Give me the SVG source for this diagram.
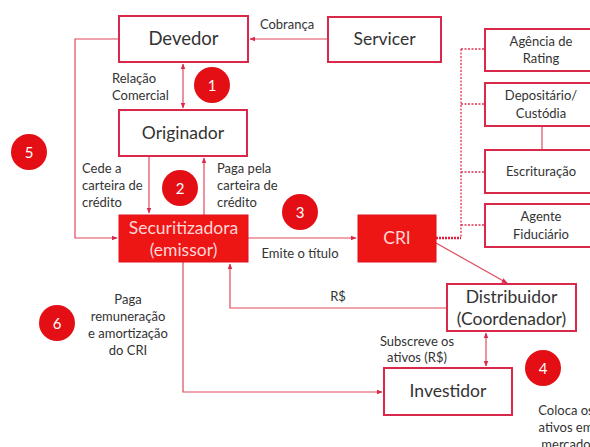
<svg xmlns="http://www.w3.org/2000/svg" width="590" height="447" viewBox="0 0 590 447">
<defs>
<style>
.box{fill:#fff;stroke:#d9284a;stroke-width:2}
.fbox{fill:#ee1515;stroke:#e01020;stroke-width:1}
.t{font-family:Lato,"Liberation Sans",sans-serif;fill:#333;text-anchor:middle}
.big{font-size:17.5px}
.sm{font-size:13px}
.wt{fill:#ffd6d6}
.ln{fill:none;stroke:#e04a5c;stroke-width:1.2}
.dot{fill:none;stroke:#e03050;stroke-width:1.3;stroke-dasharray:2 1.5}
.circ{fill:#e30f14}
.ct{font-family:Lato,"Liberation Sans",sans-serif;font-size:15px;fill:#fff;text-anchor:middle}
</style>
<marker id="ah" viewBox="0 0 10 10" refX="9" refY="5" markerWidth="6" markerHeight="6" orient="auto-start-reverse" markerUnits="userSpaceOnUse">
<path d="M0,1 L10,5 L0,9 z" fill="#d9284a"/>
</marker>
</defs>
<rect width="590" height="447" fill="#fff"/>

<g id="connectors">
<line class="ln" x1="328" y1="39" x2="250" y2="39" marker-end="url(#ah)"/>
<line class="ln" x1="183" y1="64" x2="183" y2="108" marker-start="url(#ah)" marker-end="url(#ah)"/>
<polyline class="ln" points="119,39 75,39 75,238 117,238" marker-end="url(#ah)"/>
<line class="ln" x1="149" y1="156" x2="149" y2="213" marker-end="url(#ah)"/>
<line class="ln" x1="204" y1="215" x2="204" y2="158" marker-end="url(#ah)"/>
<line class="ln" x1="248" y1="238" x2="356" y2="238" marker-end="url(#ah)"/>
<polyline class="ln" points="447,308 230,308 230,264" marker-end="url(#ah)"/>
<line class="ln" x1="436" y1="243" x2="507" y2="283" marker-end="url(#ah)"/>
<line class="ln" x1="486" y1="333" x2="486" y2="366" marker-start="url(#ah)" marker-end="url(#ah)"/>
<polyline class="ln" points="183,262 183,392 382,392" marker-end="url(#ah)"/>
<line x1="436" y1="238" x2="461" y2="238" stroke="#e02040" stroke-width="2.5" stroke-dasharray="2 1"/>
<line class="dot" x1="461" y1="49" x2="461" y2="238"/>
<line class="dot" x1="461" y1="49" x2="485" y2="49"/>
<line class="dot" x1="461" y1="104" x2="485" y2="104"/>
<line class="dot" x1="461" y1="172" x2="485" y2="172" stroke-dasharray="3 2"/>
<line class="dot" x1="461" y1="225" x2="485" y2="225" stroke-dasharray="3 2"/>
<line class="ln" x1="542" y1="126" x2="542" y2="150" stroke="#d9284a"/>
</g>

<g id="devedor"><rect class="box" x="119" y="16" width="129" height="46"/><text class="t big" x="183.5" y="45" style="font-size:18.5px">Devedor</text></g>
<g id="servicer"><rect class="box" x="328" y="17" width="113" height="45"/><text class="t big" x="384.5" y="45">Servicer</text></g>
<g id="originador"><rect class="box" x="119" y="110" width="128" height="46"/><text class="t big" x="183" y="139">Originador</text></g>
<g id="securitizadora"><rect class="fbox" x="119" y="215" width="129" height="47"/><text class="t big wt" x="183.5" y="234">Securitizadora</text><text class="t big wt" x="183.5" y="256">(emissor)</text></g>
<g id="cri"><rect class="fbox" x="358" y="215" width="78" height="47"/><text class="t big wt" x="397" y="244">CRI</text></g>
<g id="distribuidor"><rect class="box" x="447" y="284" width="129" height="47"/><text class="t big" x="511.5" y="303">Distribuidor</text><text class="t big" x="511.5" y="325">(Coordenador)</text></g>
<g id="investidor"><rect class="box" x="384" y="368" width="128" height="47"/><text class="t big" x="448" y="397">Investidor</text></g>
<g id="agencia"><rect class="box" x="485" y="29" width="120" height="42"/><text class="t sm" x="541" y="46">Agência de</text><text class="t sm" x="541" y="63">Rating</text></g>
<g id="depositario"><rect class="box" x="485" y="83" width="120" height="43"/><text class="t sm" x="541" y="100">Depositário/</text><text class="t sm" x="541" y="118">Custódia</text></g>
<g id="escrituracao"><rect class="box" x="485" y="150" width="120" height="43"/><text class="t sm" x="541" y="176">Escrituração</text></g>
<g id="agente"><rect class="box" x="485" y="204" width="120" height="43"/><text class="t sm" x="541" y="221">Agente</text><text class="t sm" x="541" y="239">Fiduciário</text></g>

<g id="labels">
<text class="t sm" x="287" y="29">Cobrança</text>
<text class="t sm" x="112" y="83" style="text-anchor:start">Relação</text>
<text class="t sm" x="112" y="100" style="text-anchor:start">Comercial</text>
<text class="t sm" x="82" y="173" style="text-anchor:start">Cede a</text>
<text class="t sm" x="82" y="190" style="text-anchor:start">carteira de</text>
<text class="t sm" x="82" y="207" style="text-anchor:start">crédito</text>
<text class="t sm" x="217" y="173" style="text-anchor:start">Paga pela</text>
<text class="t sm" x="217" y="190" style="text-anchor:start">carteira de</text>
<text class="t sm" x="217" y="207" style="text-anchor:start">crédito</text>
<text class="t sm" x="300" y="258">Emite o título</text>
<text class="t sm" x="338" y="301">R$</text>
<text class="t sm" x="128" y="304">Paga</text>
<text class="t sm" x="128" y="321">remuneração</text>
<text class="t sm" x="128" y="338">e amortização</text>
<text class="t sm" x="128" y="355">do CRI</text>
<text class="t sm" x="417" y="346">Subscreve os</text>
<text class="t sm" x="417" y="362">ativos (R$)</text>
<text class="t sm" x="566" y="415">Coloca os</text>
<text class="t sm" x="566" y="432">ativos em</text>
<text class="t sm" x="566" y="449">mercado</text>
</g>

<g id="c1"><circle class="circ" cx="212" cy="85" r="18"/><text class="ct" x="212" y="90.5">1</text></g>
<g id="c2"><circle class="circ" cx="180" cy="188" r="18"/><text class="ct" x="180" y="193.5">2</text></g>
<g id="c3"><circle class="circ" cx="300" cy="212" r="18"/><text class="ct" x="300" y="217.5">3</text></g>
<g id="c4"><circle class="circ" cx="543" cy="368" r="18"/><text class="ct" x="543" y="373.5">4</text></g>
<g id="c5"><circle class="circ" cx="29" cy="152" r="18"/><text class="ct" x="29" y="157.5">5</text></g>
<g id="c6"><circle class="circ" cx="57" cy="323" r="18"/><text class="ct" x="57" y="328.5">6</text></g>
</svg>
